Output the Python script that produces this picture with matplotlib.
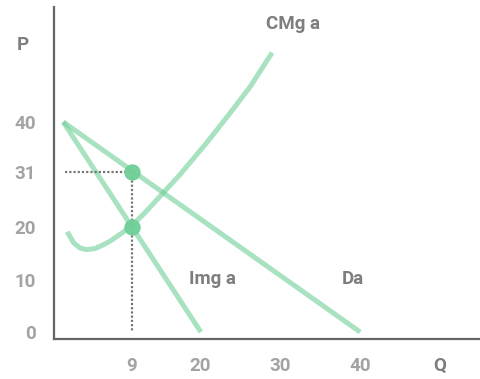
import matplotlib
matplotlib.use("Agg")
import matplotlib.pyplot as plt

plt.rcParams['font.family'] = ['Roboto', 'DejaVu Sans']

# positions on the chart (schematic axis units) and their labels
x_ticks = [11.5, 20, 30, 40, 50]
x_labels = ['9', '20', '30', '40', 'Q']
y_ticks = [0, 10, 20, 30.5, 40]
y_labels = ['0', '10', '20', '31', '40']

# demand curve Da
da_x = [2.9, 40]
da_y = [40, 0]

# marginal revenue Img a
img_x = [2.9, 20.1]
img_y = [40, 0]

# marginal cost CMg a
cmg_x = [3.4, 4.2, 5.0, 5.8, 6.9, 7.9, 8.75, 10.0, 11.5, 13.1, 15.4, 17.5, 20.8, 23.75, 26.25, 29.0]
cmg_y = [19.1, 17.0, 16.0, 15.7, 15.9, 16.6, 17.3, 18.6, 20.3, 22.7, 26.5, 30.0, 36.0, 41.7, 46.7, 53.2]

# equilibrium points
pt_x = [11.5, 11.5]
pt_y = [30.5, 20]

line_col = '#6fcf97'
text_col = '#7e7e7e'
tick_col = '#a3a3a3'
fs = 13.5

fig = plt.figure(figsize=(4.81, 3.79), dpi=100)
ax = fig.add_axes([54 / 481, 40 / 379, 427 / 481, 332 / 379])

ax.plot(da_x, da_y, color=line_col, alpha=0.6, lw=3.6, solid_capstyle='butt')
ax.plot(img_x, img_y, color=line_col, alpha=0.6, lw=3.6, solid_capstyle='butt')
ax.plot(cmg_x, cmg_y, color=line_col, alpha=0.6, lw=3.6, solid_capstyle='butt')

# dotted guides
ax.plot([3.1, pt_x[0]], [pt_y[0], pt_y[0]], color='#777777', lw=1.6,
        linestyle=(0, (1, 0.9)))
ax.plot([pt_x[0], pt_x[0]], [pt_y[0], 0.2], color='#777777', lw=1.6,
        linestyle=(0, (1, 0.9)))

ax.plot(pt_x, pt_y, 'o', color=line_col, markersize=10.8, alpha=0.95, zorder=5)

ax.text(31.6, 58.6, 'CMg a', color=text_col, fontsize=fs, fontweight='bold',
        ha='center', va='center')
ax.text(21.5, 10.1, 'Img a', color=text_col, fontsize=fs, fontweight='bold',
        ha='center', va='center')
ax.text(39.1, 10.1, 'Da', color=text_col, fontsize=fs, fontweight='bold',
        ha='center', va='center')
ax.text(-2.1, 54.7, 'P', color=text_col, fontsize=fs, fontweight='bold',
        ha='center', va='center', clip_on=False)

ax.set_xlim(1.75, 55.1)
ax.set_ylim(-1.33, 61.9)
ax.set_xticks(x_ticks)
ax.set_xticklabels(x_labels)
ax.set_yticks(y_ticks)
ax.set_yticklabels(y_labels)
ax.tick_params(length=0, labelsize=fs, labelcolor=tick_col, pad=13)
for lab in ax.get_xticklabels() + ax.get_yticklabels():
    lab.set_fontweight('bold')
ax.get_xticklabels()[-1].set_color(text_col)

for s in ['top', 'right']:
    ax.spines[s].set_visible(False)
for s in ['left', 'bottom']:
    ax.spines[s].set_color('#666666')
    ax.spines[s].set_linewidth(1.6)

plt.savefig('out.png', dpi=100)
